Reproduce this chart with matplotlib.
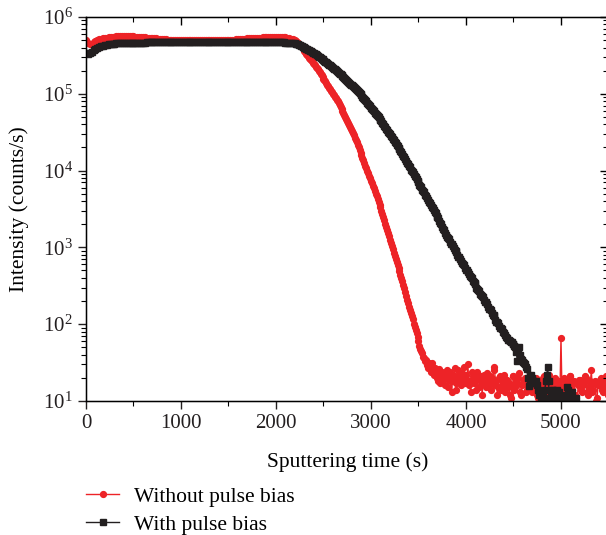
import numpy as np
import matplotlib.pyplot as plt
from matplotlib.ticker import MultipleLocator, LogLocator, NullFormatter

# sputtering time (s): every 20 s on the plateau, every 10 s from 2200 s on
time_s = np.concatenate([np.arange(0, 2200, 20), np.arange(2200, 5501, 10)])

# Without pulse bias (counts/s)
without_bias = [
    # 0 - 300
    5.0e5, 4.6e5, 4.4e5, 4.5e5, 4.7e5, 4.9e5, 5.0e5, 5.1e5, 5.2e5, 5.3e5,
    5.35e5, 5.4e5, 5.45e5, 5.5e5, 5.5e5, 5.55e5,
    # 320 - 500
    5.58e5, 5.6e5, 5.6e5, 5.62e5, 5.62e5, 5.6e5, 5.6e5, 5.6e5, 5.58e5, 5.57e5,
    # 520 - 900
    5.55e5, 5.55e5, 5.5e5, 5.5e5, 5.45e5, 5.45e5, 5.4e5, 5.4e5, 5.35e5, 5.3e5,
    5.3e5, 5.25e5, 5.2e5, 5.2e5, 5.15e5, 5.1e5, 5.1e5, 5.05e5, 5.05e5, 5.0e5,
    # 920 - 1500
    5.0e5, 4.98e5, 4.98e5, 4.97e5, 4.97e5, 4.96e5, 4.96e5, 4.95e5, 4.95e5, 4.95e5,
    4.95e5, 4.95e5, 4.94e5, 4.94e5, 4.94e5, 4.94e5, 4.95e5, 4.95e5, 4.95e5, 4.95e5,
    4.96e5, 4.96e5, 4.96e5, 4.97e5, 4.97e5, 4.98e5, 4.98e5, 4.99e5, 4.99e5, 5.0e5,
    # 1520 - 2180
    5.0e5, 5.05e5, 5.05e5, 5.1e5, 5.1e5, 5.15e5, 5.15e5, 5.2e5, 5.2e5, 5.25e5,
    5.25e5, 5.3e5, 5.3e5, 5.35e5, 5.35e5, 5.4e5, 5.4e5, 5.45e5, 5.45e5, 5.5e5,
    5.5e5, 5.5e5, 5.55e5, 5.55e5, 5.55e5, 5.55e5, 5.55e5, 5.5e5, 5.5e5, 5.45e5,
    5.4e5, 5.3e5, 5.2e5, 5.1e5,
    # 2200 - 3690 (10 s)
    5.0e5, 4.88e5, 4.74e5, 4.61e5, 4.49e5, 4.37e5, 4.21e5, 4.06e5, 3.91e5, 3.77e5,
    3.63e5, 3.48e5, 3.34e5, 3.21e5, 3.08e5, 2.95e5, 2.84e5, 2.74e5, 2.64e5, 2.55e5,
    2.45e5, 2.36e5, 2.26e5, 2.17e5, 2.08e5, 2.0e5, 1.91e5, 1.82e5, 1.74e5, 1.66e5,
    1.58e5, 1.51e5, 1.45e5, 1.38e5, 1.32e5, 1.26e5, 1.20e5, 1.15e5, 1.10e5, 1.05e5,
    1.0e5, 9.55e4, 9.12e4, 8.71e4, 8.32e4, 7.94e4, 7.48e4, 7.05e4, 6.64e4, 6.25e4,
    5.89e4, 5.57e4, 5.27e4, 4.99e4, 4.72e4, 4.47e4, 4.21e4, 3.96e4, 3.73e4, 3.52e4,
    3.31e4, 3.09e4, 2.88e4, 2.69e4, 2.51e4, 2.34e4, 2.17e4, 2.0e4, 1.85e4, 1.71e4,
    1.58e4, 1.47e4, 1.36e4, 1.25e4, 1.16e4, 1.07e4, 9.95e3, 9.25e3, 8.59e3, 7.98e3,
    7.41e3, 6.85e3, 6.34e3, 5.86e3, 5.42e3, 5.01e3, 4.61e3, 4.25e3, 3.91e3, 3.6e3,
    3.31e3, 3.01e3, 2.73e3, 2.48e3, 2.25e3, 2.04e3, 1.85e3, 1.68e3, 1.53e3, 1.39e3,
    1.26e3, 1.14e3, 1.04e3, 942, 855, 776, 708, 646, 589, 537,
    490, 443, 400, 361, 327, 295, 263, 234, 209, 186,
    166, 151, 138, 126, 118, 102, 93, 85, 76, 68,
    60, 52, 48, 45, 42, 37, 36, 33, 34, 29,
    27, 31, 28, 24, 31, 26, 22, 27, 24, 20,
    # 3700 - 5500 (10 s)
    22, 18, 26, 17, 21, 24, 19, 23, 16, 20,
    25, 15, 21, 24, 18, 13, 22, 19, 27, 17,
    14, 21, 25, 18, 20, 16, 23, 19, 28, 17,
    22, 19, 30, 16, 18, 13, 24, 21, 17, 23,
    18, 14, 24, 20, 15, 19, 21, 12, 17, 22,
    19, 15, 23, 18, 16, 21, 14, 20, 17, 25,
    28, 16, 18, 12, 15, 20, 21, 14, 16, 19,
    22, 13, 18, 19, 15, 17, 12, 11, 16, 21,
    21, 14, 15, 18, 17, 20, 23, 13, 12, 16,
    17, 19, 20, 13, 14, 18, 19, 21, 22, 15,
    13, 17, 16, 19, 20, 12, 11, 15, 18, 14,
    15, 20, 21, 16, 13, 11, 17, 22, 19, 14,
    12, 16, 16, 19, 20, 13, 14, 18, 18, 15,
    66, 14, 15, 20, 19, 12, 12, 16, 17, 21,
    21, 13, 14, 17, 18, 12, 11, 9, 16, 19,
    19, 14, 13, 16, 17, 21, 20, 13, 12, 15,
    15, 18, 25, 13, 14, 17, 18, 10, 11, 16,
    16, 19, 20, 14, 13, 15, 17, 21, 19, 12,
    14,
]

# With pulse bias (counts/s)
with_bias = [
    # 0 - 320
    3.4e5, 3.3e5, 3.4e5, 3.55e5, 3.7e5, 3.85e5, 3.95e5, 4.05e5, 4.15e5, 4.2e5,
    4.3e5, 4.35e5, 4.4e5, 4.45e5, 4.5e5, 4.5e5, 4.55e5,
    # 340 - 2180
    4.58e5, 4.6e5, 4.6e5, 4.62e5, 4.62e5, 4.63e5, 4.63e5, 4.64e5, 4.64e5, 4.64e5,
    4.65e5, 4.65e5, 4.65e5, 4.65e5, 4.65e5, 4.66e5, 4.66e5, 4.66e5, 4.66e5, 4.66e5,
    4.66e5, 4.66e5, 4.66e5, 4.66e5, 4.66e5, 4.66e5, 4.66e5, 4.66e5, 4.66e5, 4.66e5,
    4.66e5, 4.66e5, 4.66e5, 4.66e5, 4.66e5, 4.66e5, 4.66e5, 4.66e5, 4.66e5, 4.66e5,
    4.66e5, 4.66e5, 4.66e5, 4.66e5, 4.66e5, 4.66e5, 4.66e5, 4.66e5, 4.66e5, 4.66e5,
    4.66e5, 4.66e5, 4.66e5, 4.66e5, 4.66e5, 4.66e5, 4.66e5, 4.66e5, 4.66e5, 4.66e5,
    4.66e5, 4.66e5, 4.66e5, 4.66e5, 4.66e5, 4.66e5, 4.66e5, 4.66e5, 4.66e5, 4.66e5,
    4.66e5, 4.66e5, 4.66e5, 4.66e5, 4.66e5, 4.66e5, 4.66e5, 4.66e5, 4.66e5, 4.66e5,
    4.66e5, 4.66e5, 4.66e5, 4.66e5, 4.66e5, 4.66e5, 4.66e5, 4.66e5, 4.65e5, 4.65e5,
    4.64e5, 4.62e5, 4.6e5,
    # 2200 - 3800 (10 s)
    4.57e5, 4.51e5, 4.45e5, 4.39e5, 4.33e5, 4.27e5, 4.21e5, 4.15e5, 4.09e5, 4.04e5,
    3.98e5, 3.92e5, 3.85e5, 3.79e5, 3.73e5, 3.67e5, 3.61e5, 3.56e5, 3.50e5, 3.44e5,
    3.39e5, 3.32e5, 3.25e5, 3.18e5, 3.12e5, 3.05e5, 2.99e5, 2.93e5, 2.87e5, 2.81e5,
    2.75e5, 2.69e5, 2.63e5, 2.57e5, 2.51e5, 2.45e5, 2.40e5, 2.34e5, 2.29e5, 2.24e5,
    2.19e5, 2.13e5, 2.08e5, 2.03e5, 1.98e5, 1.93e5, 1.88e5, 1.83e5, 1.79e5, 1.74e5,
    1.70e5, 1.65e5, 1.61e5, 1.56e5, 1.52e5, 1.48e5, 1.44e5, 1.40e5, 1.36e5, 1.32e5,
    1.29e5, 1.25e5, 1.21e5, 1.18e5, 1.14e5, 1.11e5, 1.08e5, 1.04e5, 1.01e5, 9.84e4,
    9.55e4, 9.20e4, 8.87e4, 8.55e4, 8.24e4, 7.94e4, 7.66e4, 7.38e4, 7.11e4, 6.85e4,
    6.61e4, 6.37e4, 6.14e4, 5.92e4, 5.70e4, 5.50e4, 5.30e4, 5.11e4, 4.92e4, 4.74e4,
    4.57e4, 4.38e4, 4.19e4, 4.01e4, 3.84e4, 3.67e4, 3.52e4, 3.37e4, 3.22e4, 3.08e4,
    2.95e4, 2.82e4, 2.70e4, 2.59e4, 2.48e4, 2.37e4, 2.27e4, 2.17e4, 2.08e4, 1.99e4,
    1.91e4, 1.81e4, 1.72e4, 1.64e4, 1.56e4, 1.48e4, 1.41e4, 1.34e4, 1.27e4, 1.21e4,
    1.15e4, 1.11e4, 1.02e4, 9.86e3, 9.6e3, 8.91e3, 8.47e3, 8.3e3, 7.66e3, 7.28e3,
    7.1e3, 6.58e3, 6.25e3, 6.1e3, 5.65e3, 5.37e3, 5.2e3, 4.85e3, 4.61e3, 4.45e3,
    4.17e3, 3.95e3, 3.82e3, 3.56e3, 3.37e3, 3.28e3, 3.03e3, 2.88e3, 2.8e3, 2.59e3,
    2.45e3, 2.38e3, 2.19e3, 2.07e3, 2.0e3, 1.84e3, 1.74e3, 1.68e3, 1.55e3, 1.46e3,
    1.38e3,
    # 3810 - 4400 (10 s)
    1.32e3, 1.27e3, 1.18e3, 1.12e3, 1.1e3, 1.05e3, 970, 920, 900,
    870, 800, 760, 740, 715, 660, 630, 615, 590, 545,
    515, 505, 485, 445, 425, 415, 400, 365, 350, 340,
    330, 300, 288, 280, 272, 248, 238, 232, 225, 205,
    195, 192, 185, 168, 160, 157, 152, 138, 132, 130,
    126, 113, 108, 107, 104, 94, 90, 88, 86, 79,
    76,
    # 4410 - 5500 (10 s)
    72, 69, 66, 63, 62, 60, 59, 58, 56, 55,
    52, 50, 44, 33, 45, 50, 40, 35, 34, 32,
    31, 30, 28, 26, 20, 15.5, 19, 22, 20, 19,
    18, 17, 17, 18, 16, 14, 12, 9, 11, 13,
    12, 11, 14, 18, 22, 28, 18, 8, 11, 13,
    14, 14, 12, 10, 12, 14, 13, 13, 10, 8,
    10, 11, 10, 9, 12, 15, 14, 12.5, 10, 8,
    11, 13, 10, 7, 9, 11, 8, 6, 5, 7,
    6, 5, 6, 7, 5, 6, 5, 6, 7, 5,
    6, 5, 6, 5, 6, 7, 5, 6, 5, 6,
    7, 5, 6, 5, 6, 5, 7, 6, 5, 6,
]

labels = ["Without pulse bias", "With pulse bias"]
red = "#ED2327"
black = "#231F20"

plt.rcParams["font.family"] = ["Liberation Serif", "DejaVu Serif"]
plt.rcParams["mathtext.fontset"] = "custom"
plt.rcParams["mathtext.rm"] = "Liberation Serif"

fig = plt.figure(figsize=(6.06, 5.35), dpi=100)
ax = fig.add_axes([0.1419, 0.2505, 0.8622, 0.7178])

ax.plot(time_s, without_bias, "-o", color=red, lw=1, ms=4.2, mec=red, label=labels[0])
ax.plot(time_s, with_bias, "-s", color=black, lw=1, ms=3.9, mec=black, label=labels[1])

ax.set_yscale("log")
ax.set_xlim(0, 5500)
ax.set_ylim(10, 1e6)
ax.xaxis.set_major_locator(MultipleLocator(1000))
ax.xaxis.set_minor_locator(MultipleLocator(500))
ax.yaxis.set_major_locator(LogLocator(base=10, numticks=10))
ax.yaxis.set_minor_locator(LogLocator(base=10, subs=np.arange(2, 10), numticks=10))
ax.yaxis.set_minor_formatter(NullFormatter())
ax.tick_params(which="major", direction="out", length=6, width=1, labelsize=15, colors=black)
ax.tick_params(which="minor", direction="out", length=3.5, width=0.8)
for s in ax.spines.values():
    s.set_linewidth(1)
    s.set_color(black)

ax.set_xlabel("Sputtering time (s)", fontsize=15.5, labelpad=14)
ax.set_ylabel("Intensity (counts/s)", fontsize=15.5, labelpad=10)

# mirrored ticks pointing inward on top and right
axt = ax.twiny()
axt.set_xlim(0, 5500)
axt.xaxis.set_major_locator(MultipleLocator(1000))
axt.xaxis.set_minor_locator(MultipleLocator(500))
axt.tick_params(which="major", direction="in", length=6, width=1, labeltop=False)
axt.tick_params(which="minor", direction="in", length=3.5, width=0.8)
axr = ax.twinx()
axr.set_yscale("log")
axr.set_ylim(10, 1e6)
axr.yaxis.set_major_locator(LogLocator(base=10, numticks=10))
axr.yaxis.set_minor_locator(LogLocator(base=10, subs=np.arange(2, 10), numticks=10))
axr.tick_params(which="major", direction="in", length=6, width=1, labelright=False)
axr.tick_params(which="minor", direction="in", length=3.5, width=0.8, labelright=False)

handles, labs = ax.get_legend_handles_labels()
fig.legend(handles, labs, loc="upper left", bbox_to_anchor=(0.142, 0.09),
           frameon=False, fontsize=15.5, numpoints=1, handlelength=1.55,
           handletextpad=0.7, labelspacing=0.35, borderpad=0, borderaxespad=0)

fig.savefig("out.png", dpi=100)
